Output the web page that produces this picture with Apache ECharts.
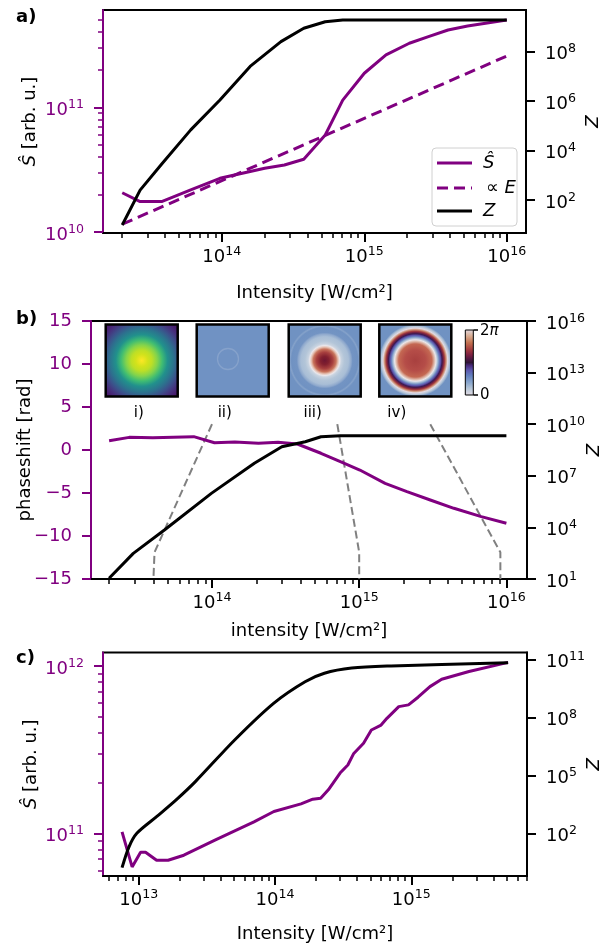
<!DOCTYPE html>
<html><head><meta charset="utf-8">
<script src="https://cdn.jsdelivr.net/npm/echarts@6/dist/echarts.min.js"></script>
<style>html,body{margin:0;padding:0;background:#fff}#c{width:613px;height:948px}</style>
</head><body><div id="c"></div>
<script>
// ---------------- Panel a data ----------------
const aIntensity = [2.0e13, 2.67e13, 3.78e13, 6.05e13, 9.7e13, 2.0e14, 2.75e14, 3.76e14, 5.32e14, 7.06e14, 1.0e15, 1.42e15, 2.07e15, 2.82e15, 3.87e15, 5.31e15, 1.0e16];
const aSignal = [2.07e10, 1.76e10, 1.76e10, 2.18e10, 2.70e10, 3.25e10, 3.45e10, 3.84e10, 6.0e10, 1.14e11, 1.87e11, 2.62e11, 3.25e11, 3.67e11, 4.15e11, 4.47e11, 4.99e11];
const aPropIntensity = [2.0e13, 1.0e16];
const aPropE = [1.16e10, 2.57e11];
const aZIntensity = [2.0e13, 2.67e13, 3.8e13, 6.05e13, 9.7e13, 1.58e14, 2.6e14, 3.76e14, 5.32e14, 7.06e14, 1.0e16];
const aZ = [9.8, 251, 2.9e3, 6.8e4, 1.1e6, 2.5e7, 2.5e8, 8.7e8, 1.6e9, 1.86e9, 1.86e9];
const aXTicks = [1e14, 1e15, 1e16];
const aLeftTicks = [1e10, 1e11];
const aRightTicks = [1e2, 1e4, 1e6, 1e8];

// ---------------- Panel b data ----------------
const bIntensity = [2.0e13, 2.74e13, 3.96e13, 7.52e13, 1.04e14, 1.43e14, 2.07e14, 2.81e14, 3.8e14, 5.5e14, 7.45e14, 1.01e15, 1.5e15, 2.11e15, 3.04e15, 4.4e15, 6.75e15, 1.0e16];
const bPhase = [1.08, 1.47, 1.43, 1.55, 0.85, 0.93, 0.78, 0.89, 0.70, -0.38, -1.36, -2.33, -3.88, -4.85, -5.81, -6.78, -7.75, -8.52];
const bZIntensity = [2.0e13, 2.92e13, 4.75e13, 9.9e13, 1.94e14, 2.98e14, 4.3e14, 5.5e14, 7.45e14, 1.0e16];
const bZ = [11, 309, 7.1e3, 9.5e5, 5.4e7, 4.9e8, 9.5e8, 1.86e9, 2.1e9, 2.1e9];
const bGuide1I = [1.0e14, 4.07e13, 4.0e13];
const bGuide2I = [7.1e14, 1.0e15, 1.0e15];
const bGuide3I = [3.04e15, 9.1e15, 9.1e15];
const bGuidePhase = [3.0, -11.9, -15];
const bXTicks = [1e14, 1e15, 1e16];
const bLeftTicks = [-15, -10, -5, 0, 5, 10, 15];
const bRightTicks = [1e1, 1e4, 1e7, 1e10, 1e13, 1e16];
const bInsetLabels = ['i)', 'ii)', 'iii)', 'iv)'];

// ---------------- Panel c data ----------------
const cIntensity = [7.53e12, 8.93e12, 1.03e13, 1.12e13, 1.35e13, 1.64e13, 2.14e13, 3.62e13, 7.0e13, 9.8e13, 1.55e14, 1.89e14, 2.16e14, 2.46e14, 3.0e14, 3.42e14, 3.78e14, 4.46e14, 5.09e14, 6.0e14, 6.62e14, 8.09e14, 9.53e14, 1.12e15, 1.37e15, 1.67e15, 2.65e15, 5.13e15];
const cSignal = [1.02e11, 6.3e10, 7.7e10, 7.7e10, 6.9e10, 6.9e10, 7.4e10, 9.1e10, 1.17e11, 1.35e11, 1.5e11, 1.6e11, 1.62e11, 1.82e11, 2.29e11, 2.56e11, 3.0e11, 3.45e11, 4.14e11, 4.43e11, 4.86e11, 5.71e11, 5.85e11, 6.5e11, 7.52e11, 8.32e11, 9.25e11, 1.05e12];
const cZIntensity = [7.53e12, 8.47e12, 9.67e12, 1.35e13, 1.87e13, 2.6e13, 5.05e13, 9.8e13, 1.66e14, 2.3e14, 3.65e14, 7.1e14, 5.13e15];
const cZ = [1.66, 20, 100, 724, 5.2e3, 4.7e4, 6.7e6, 5.4e8, 6.9e9, 1.9e10, 3.5e10, 4.5e10, 6.7e10];
const cXTicks = [1e13, 1e14, 1e15];
const cLeftTicks = [1e11, 1e12];
const cRightTicks = [1e2, 1e5, 1e8, 1e11];

// ---------------- helpers ----------------
const F = 'DejaVu Sans';
const PURPLE = '#800080';
const L = Math.log10;
const logPts = (xs, ys) => xs.map((x, i) => [L(x), L(ys[i])]);
const linPts = (xs, ys) => xs.map((x, i) => [L(x), ys[i]]);
function minorTicks(lo, hi) {
  const out = [];
  for (let e = Math.floor(lo); e <= Math.ceil(hi); e++)
    for (let k = 2; k <= 9; k++) { const v = e + L(k); if (v >= lo - 1e-9 && v <= hi + 1e-9) out.push(v); }
  return out;
}
const supRich = c => ({
  b: {fontSize: 18, fontFamily: F, color: c, lineHeight: 18, padding: [6, 0, 0, 0]},
  s: {fontSize: 12.6, fontFamily: F, color: c, lineHeight: 13, verticalAlign: 'top'}
});
const powFmt = v => '{b|10}{s|' + Math.round(v) + '}';
const nameStyle = {fontSize: 18, fontFamily: F, color: '#000', rich: {i: {fontSize: 18, fontFamily: F, fontStyle: 'italic', color: '#000'}}};

function xMajor(g, ext, ticks, name, gap) {
  return {type: 'value', gridIndex: g, position: 'bottom', min: ext[0], max: ext[1],
    axisLine: {show: true, onZero: false, lineStyle: {color: '#000', width: 2}},
    axisTick: {show: true, customValues: ticks.map(L), length: 9, lineStyle: {color: '#000', width: 2}},
    axisLabel: {show: true, customValues: ticks.map(L), formatter: powFmt, margin: 12, rich: supRich('#000')},
    splitLine: {show: false}, name: name, nameLocation: 'middle', nameGap: gap, nameMoveOverlap: false, nameTextStyle: nameStyle};
}
function xMinor(g, ext) {
  return {type: 'value', gridIndex: g, position: 'bottom', min: ext[0], max: ext[1],
    axisLine: {show: false, onZero: false},
    axisTick: {show: true, customValues: minorTicks(ext[0], ext[1]), length: 5, lineStyle: {color: '#000', width: 1.5}},
    axisLabel: {show: false}, splitLine: {show: false}};
}
function yLogMajor(g, pos, ext, ticks, color, name, gap) {
  return {type: 'value', gridIndex: g, position: pos, min: ext[0], max: ext[1],
    axisLine: {show: true, onZero: false, lineStyle: {color: color, width: 2}},
    axisTick: {show: true, customValues: ticks.map(L), length: 9, lineStyle: {color: color, width: 2}},
    axisLabel: {show: true, customValues: ticks.map(L), formatter: powFmt, margin: 19, rich: supRich(color)},
    splitLine: {show: false}, name: name, nameLocation: 'middle', nameGap: gap, nameRotate: 90, nameMoveOverlap: false, nameTextStyle: nameStyle};
}
function yMinor(g, pos, ext, color) {
  return {type: 'value', gridIndex: g, position: pos, min: ext[0], max: ext[1],
    axisLine: {show: false, onZero: false},
    axisTick: {show: true, customValues: minorTicks(ext[0], ext[1]), length: 5, lineStyle: {color: color, width: 1.5}},
    axisLabel: {show: false}, splitLine: {show: false}};
}
function line(xi, yi, data, color, width, extra) {
  return Object.assign({type: 'line', xAxisIndex: xi, yAxisIndex: yi, data: data, symbol: 'none', showSymbol: false,
    lineStyle: {color: color, width: width}, itemStyle: {color: color}, z: 3, animation: false}, extra || {});
}

// axis extents (log10 space / linear)
const aX = [13.166, 16.135], aYL = [9.994, 11.778], aYR = [0.667, 9.677];
const bX = [13.178, 16.14], bYL = [-15, 15], bYR = [1, 16];
const cX = [12.737, 15.849], cYL = [10.745, 12.08], cYR = [-0.21, 11.35];

const grids = [
  {left: 103, top: 10, width: 423, height: 223},
  {left: 91, top: 321, width: 436, height: 258},
  {left: 103, top: 652.5, width: 424, height: 223.5}
].map(g => Object.assign({show: true, borderColor: '#000', borderWidth: 2, backgroundColor: 'transparent', containLabel: false}, g));

const xAxes = [
  xMajor(0, aX, aXTicks, 'Intensity [W/cm²]', 51), xMinor(0, aX),
  xMajor(1, bX, bXTicks, 'intensity [W/cm²]', 43), xMinor(1, bX),
  xMajor(2, cX, cXTicks, 'Intensity [W/cm²]', 49), xMinor(2, cX)
];
const bLeft = {type: 'value', gridIndex: 1, position: 'left', min: -15, max: 15, interval: 5,
  axisLine: {show: true, onZero: false, lineStyle: {color: PURPLE, width: 2}},
  axisTick: {show: true, length: 9, lineStyle: {color: PURPLE, width: 2}},
  axisLabel: {show: true, margin: 19, fontSize: 18, fontFamily: F, color: PURPLE, formatter: v => v < 0 ? '\u2212' + Math.abs(v) : String(v)},
  splitLine: {show: false}, name: 'phaseshift [rad]', nameLocation: 'middle', nameGap: 57, nameRotate: 90, nameMoveOverlap: false, nameTextStyle: nameStyle};
const yAxes = [
  yLogMajor(0, 'left', aYL, aLeftTicks, PURPLE, '{i|Ŝ} [arb. u.]', 64), yMinor(0, 'left', aYL, PURPLE),
  yLogMajor(0, 'right', aYR, aRightTicks, '#000', '{i|Z}', 58),
  bLeft,
  yLogMajor(1, 'right', bYR, bRightTicks, '#000', '{i|Z}', 58),
  yLogMajor(2, 'left', cYL, cLeftTicks, PURPLE, '{i|Ŝ} [arb. u.]', 63), yMinor(2, 'left', cYL, PURPLE),
  yLogMajor(2, 'right', cYR, cRightTicks, '#000', '{i|Z}', 58)
];

const guideStyle = {lineStyle: {color: '#808080', width: 2, type: [8, 4]}, z: 2};
const series = [
  line(0, 0, logPts(aIntensity, aSignal), PURPLE, 3),
  line(0, 0, logPts(aPropIntensity, aPropE), PURPLE, 3, {lineStyle: {color: PURPLE, width: 3, type: [11, 6]}}),
  line(0, 2, logPts(aZIntensity, aZ), '#000', 3),
  line(2, 3, linPts(bGuide1I, bGuidePhase), '#808080', 2, guideStyle),
  line(2, 3, linPts(bGuide2I, bGuidePhase), '#808080', 2, guideStyle),
  line(2, 3, linPts(bGuide3I, bGuidePhase), '#808080', 2, guideStyle),
  line(2, 3, linPts(bIntensity, bPhase), PURPLE, 3),
  line(2, 4, logPts(bZIntensity, bZ), '#000', 3),
  line(4, 5, logPts(cIntensity, cSignal), PURPLE, 3),
  line(4, 7, logPts(cZIntensity, cZ), '#000', 3, {smooth: 0.3})
];

// --------- decorations (insets, colour bar, legend, panel letters) ---------
const twilight = [[0, '#e2d9e2'], [0.1, '#b8c8d8'], [0.2, '#87a4cb'], [0.3, '#6380bf'], [0.38, '#5d59ae'], [0.45, '#4b2c7f'], [0.5, '#2f1436'], [0.55, '#4e1642'], [0.62, '#7e2141'], [0.7, '#a53d3e'], [0.8, '#c3714f'], [0.9, '#d7ab90'], [1, '#e2d9e2']];
const radial = (R, stops) => ({type: 'radial', x: 0.5, y: 0.5, r: R / 72, colorStops: stops.map(s => ({offset: Math.min(1, s[0] / R), color: s[1]}))});
const insetY = 324.5, insetS = 72;
const insetX = [105.7, 196.7, 288.7, 379.3];
const insetFill = [
  radial(51, [[0, '#fde725'], [6, '#d2e21b'], [10, '#bddf26'], [15, '#84d44b'], [20, '#3fbc73'], [25, '#21918c'], [31, '#2c728e'], [36, '#3b528b'], [41, '#46337e'], [46, '#481b6d'], [51, '#471063']]),
  '#7092c3',
  radial(52, [[0, '#6e1631'], [4, '#82202f'], [8, '#a8403f'], [11, '#c8745c'], [13, '#e6c3b5'], [14.5, '#eae6ea'], [16, '#c8d3e0'], [19, '#b3c5d8'], [23, '#a9bed6'], [25.5, '#8fa9cd'], [27, '#7394c3'], [32, '#7092c2'], [33.5, '#85a2ca'], [35, '#7092c2'], [52, '#7092c2']]),
  radial(52, [[0, '#a8403f'], [10, '#b54d48'], [16, '#c46852'], [18.5, '#e0bcae'], [20, '#eae6ea'], [21.5, '#a9bed6'], [23, '#6d88c2'], [24.5, '#5a4ea6'], [25.8, '#3a1a52'], [27, '#6e1e42'], [28.3, '#a53d3e'], [29.8, '#cf9478'], [31.2, '#e2d9e2'], [33, '#b3c5d8'], [35, '#7092c2'], [52, '#7092c2']])
];
const labelX = [138.8, 224.8, 312.7, 396.8];
const graphics = [];
insetX.forEach((x, k) => {
  graphics.push({type: 'rect', shape: {x: x, y: insetY, width: insetS, height: insetS}, style: {fill: insetFill[k], stroke: '#000', lineWidth: 2.5}, z: 100});
  graphics.push({type: 'text', x: labelX[k], y: 413, style: {text: bInsetLabels[k], font: '15px "DejaVu Sans"', fill: '#000', textAlign: 'center', textVerticalAlign: 'middle'}, z: 100});
});
graphics.push({type: 'circle', shape: {cx: 228, cy: 359, r: 10.5}, style: {fill: 'none', stroke: '#86a2cb', lineWidth: 1.3}, z: 101});
graphics.push({type: 'rect', shape: {x: 465.3, y: 330, width: 8, height: 65}, style: {fill: {type: 'linear', x: 0, y: 1, x2: 0, y2: 0, colorStops: twilight.map(s => ({offset: s[0], color: s[1]}))}, stroke: '#000', lineWidth: 1}, z: 100});
graphics.push({type: 'line', shape: {x1: 473.3, y1: 330, x2: 478, y2: 330}, style: {stroke: '#000', lineWidth: 1.5}, z: 100});
graphics.push({type: 'line', shape: {x1: 473.3, y1: 395, x2: 478, y2: 395}, style: {stroke: '#000', lineWidth: 1.5}, z: 100});
graphics.push({type: 'text', x: 480, y: 331, style: {text: '2{i|π}', rich: {i: {fontStyle: 'italic', fontSize: 15, fontFamily: F}}, font: '15px "DejaVu Sans"', fill: '#000', textVerticalAlign: 'middle'}, z: 100});
graphics.push({type: 'text', x: 480, y: 395, style: {text: '0', font: '15px "DejaVu Sans"', fill: '#000', textVerticalAlign: 'middle'}, z: 100});
// legend of panel a
graphics.push({type: 'rect', shape: {x: 432, y: 148, width: 85, height: 78, r: 4}, style: {fill: 'rgba(255,255,255,0.8)', stroke: '#d0d0d0', lineWidth: 1}, z: 100});
graphics.push({type: 'line', shape: {x1: 437, y1: 163, x2: 472, y2: 163}, style: {stroke: PURPLE, lineWidth: 3}, z: 101});
graphics.push({type: 'line', shape: {x1: 437, y1: 188, x2: 472, y2: 188}, style: {stroke: PURPLE, lineWidth: 3, lineDash: [11, 6]}, z: 101});
graphics.push({type: 'line', shape: {x1: 437, y1: 211, x2: 472, y2: 211}, style: {stroke: '#000', lineWidth: 3}, z: 101});
graphics.push({type: 'text', x: 483, y: 163, style: {text: 'Ŝ', font: 'italic 18px "DejaVu Sans"', fill: '#000', textVerticalAlign: 'middle'}, z: 101});
graphics.push({type: 'text', x: 486, y: 188, style: {text: '∝ {i|E}', rich: {i: {fontStyle: 'italic', fontSize: 18, fontFamily: F}}, font: '18px "DejaVu Sans"', fill: '#000', textVerticalAlign: 'middle'}, z: 101});
graphics.push({type: 'text', x: 483, y: 211, style: {text: 'Z', font: 'italic 18px "DejaVu Sans"', fill: '#000', textVerticalAlign: 'middle'}, z: 101});
// panel letters
[['a)', 17], ['b)', 319], ['c)', 658]].forEach(p => graphics.push({type: 'text', x: 16, y: p[1], style: {text: p[0], font: 'bold 18px "DejaVu Sans"', fill: '#000', textVerticalAlign: 'middle'}, z: 100}));

const chart = echarts.init(document.getElementById('c'), null, {renderer: 'canvas'});
chart.setOption({animation: false, backgroundColor: '#fff', grid: grids, xAxis: xAxes, yAxis: yAxes, series: series, graphic: graphics});
</script></body></html>
